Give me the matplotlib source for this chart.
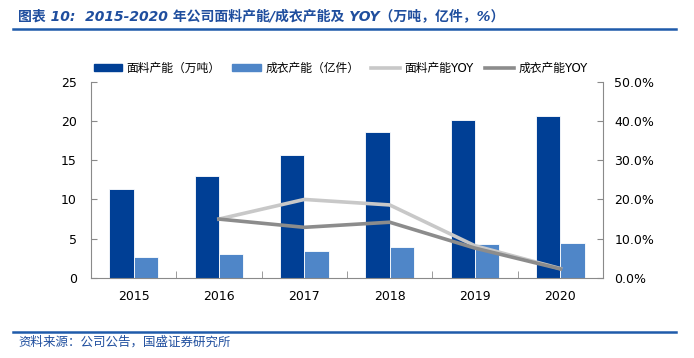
import matplotlib
matplotlib.use("Agg")
import matplotlib.pyplot as plt
from matplotlib.lines import Line2D
from matplotlib.patches import Patch
from matplotlib.ticker import PercentFormatter
import numpy as np

plt.rcParams['font.family'] = ['DejaVu Sans', 'Noto Sans CJK SC']

# data
years = ['2015', '2016', '2017', '2018', '2019', '2020']
fabric_cap = [11.3, 13.0, 15.65, 18.57, 20.06, 20.57]      # 万吨
garment_cap = [2.67, 3.05, 3.43, 3.98, 4.28, 4.41]         # 亿件
fabric_yoy = [None, 15.0, 20.0, 18.6, 8.2, 2.4]            # %
garment_yoy = [None, 15.0, 12.9, 14.2, 7.6, 2.3]           # %

dark_blue = '#003F95'
light_blue = '#4F86C8'
light_grey = '#C8C8C8'
dark_grey = '#8C8C8C'
axis_grey = '#8A8A8A'

fig = plt.figure(figsize=(6.94, 3.58), dpi=100)
ax = fig.add_axes([0.131, 0.2235, 0.738, 0.5485])
ax2 = ax.twinx()

x = np.arange(len(years))
w = 0.285
ax.bar(x - w / 2, fabric_cap, w, color=dark_blue, edgecolor='white', linewidth=0.6, zorder=2)
ax.bar(x + w / 2, garment_cap, w, color=light_blue, edgecolor='white', linewidth=0.6, zorder=2)

xl = x[1:]
ax2.plot(xl, fabric_yoy[1:], color=light_grey, lw=2.6, solid_joinstyle='round')
ax2.plot(xl, garment_yoy[1:], color=dark_grey, lw=2.6, solid_joinstyle='round')

ax.set_xlim(-0.5, 5.5)
ax.set_ylim(0, 25)
ax.set_yticks([0, 5, 10, 15, 20, 25])
ax2.set_ylim(0, 50)
ax2.set_yticks([0, 10, 20, 30, 40, 50])
ax2.yaxis.set_major_formatter(PercentFormatter(decimals=1))

ax.set_xticks(x)
ax.set_xticklabels(years)
ax.set_xticks(np.arange(-0.5, 6.0, 1.0), minor=True)
ax.tick_params(axis='x', which='major', length=0, pad=9, labelsize=9)
ax.tick_params(axis='x', which='minor', direction='in', length=5, color=axis_grey)
ax.tick_params(axis='y', direction='in', length=4, color=axis_grey, labelsize=9, pad=10)
ax2.tick_params(axis='y', direction='in', length=4, color=axis_grey, labelsize=9, pad=8)

for a in (ax, ax2):
    a.spines['top'].set_visible(False)
    for s in ('left', 'right', 'bottom'):
        a.spines[s].set_color(axis_grey)
ax2.spines['left'].set_visible(False)
ax2.spines['bottom'].set_visible(False)
ax.spines['right'].set_visible(False)

handles = [Patch(color=dark_blue), Patch(color=light_blue),
           Line2D([], [], color=light_grey, lw=2.6),
           Line2D([], [], color=dark_grey, lw=2.6)]
labels = ['面料产能（万吨）', '成衣产能（亿件）', '面料产能YOY', '成衣产能YOY']
fig.legend(handles, labels, loc='center left', bbox_to_anchor=(0.128, 0.81), ncol=4,
           frameon=False, fontsize=8.5, handlelength=2.4, handleheight=0.6,
           handletextpad=0.4, columnspacing=1.0, borderaxespad=0)

title_color = '#1F4E9E'
fig.text(0.026, 0.955, '图表 10:  2015-2020 年公司面料产能/成衣产能及 YOY（万吨，亿件，%）',
         color=title_color, fontsize=10, style='italic', fontweight='bold', va='center')
fig.add_artist(Line2D([0.019, 0.974], [0.919, 0.919], color='#1F5BAA', lw=1.8))
fig.add_artist(Line2D([0.019, 0.974], [0.073, 0.073], color='#1F5BAA', lw=1.8))
fig.text(0.026, 0.045, '资料来源：公司公告，国盛证券研究所', color=title_color,
         fontsize=9, style='italic', va='center')

fig.savefig('out.png', dpi=100)
